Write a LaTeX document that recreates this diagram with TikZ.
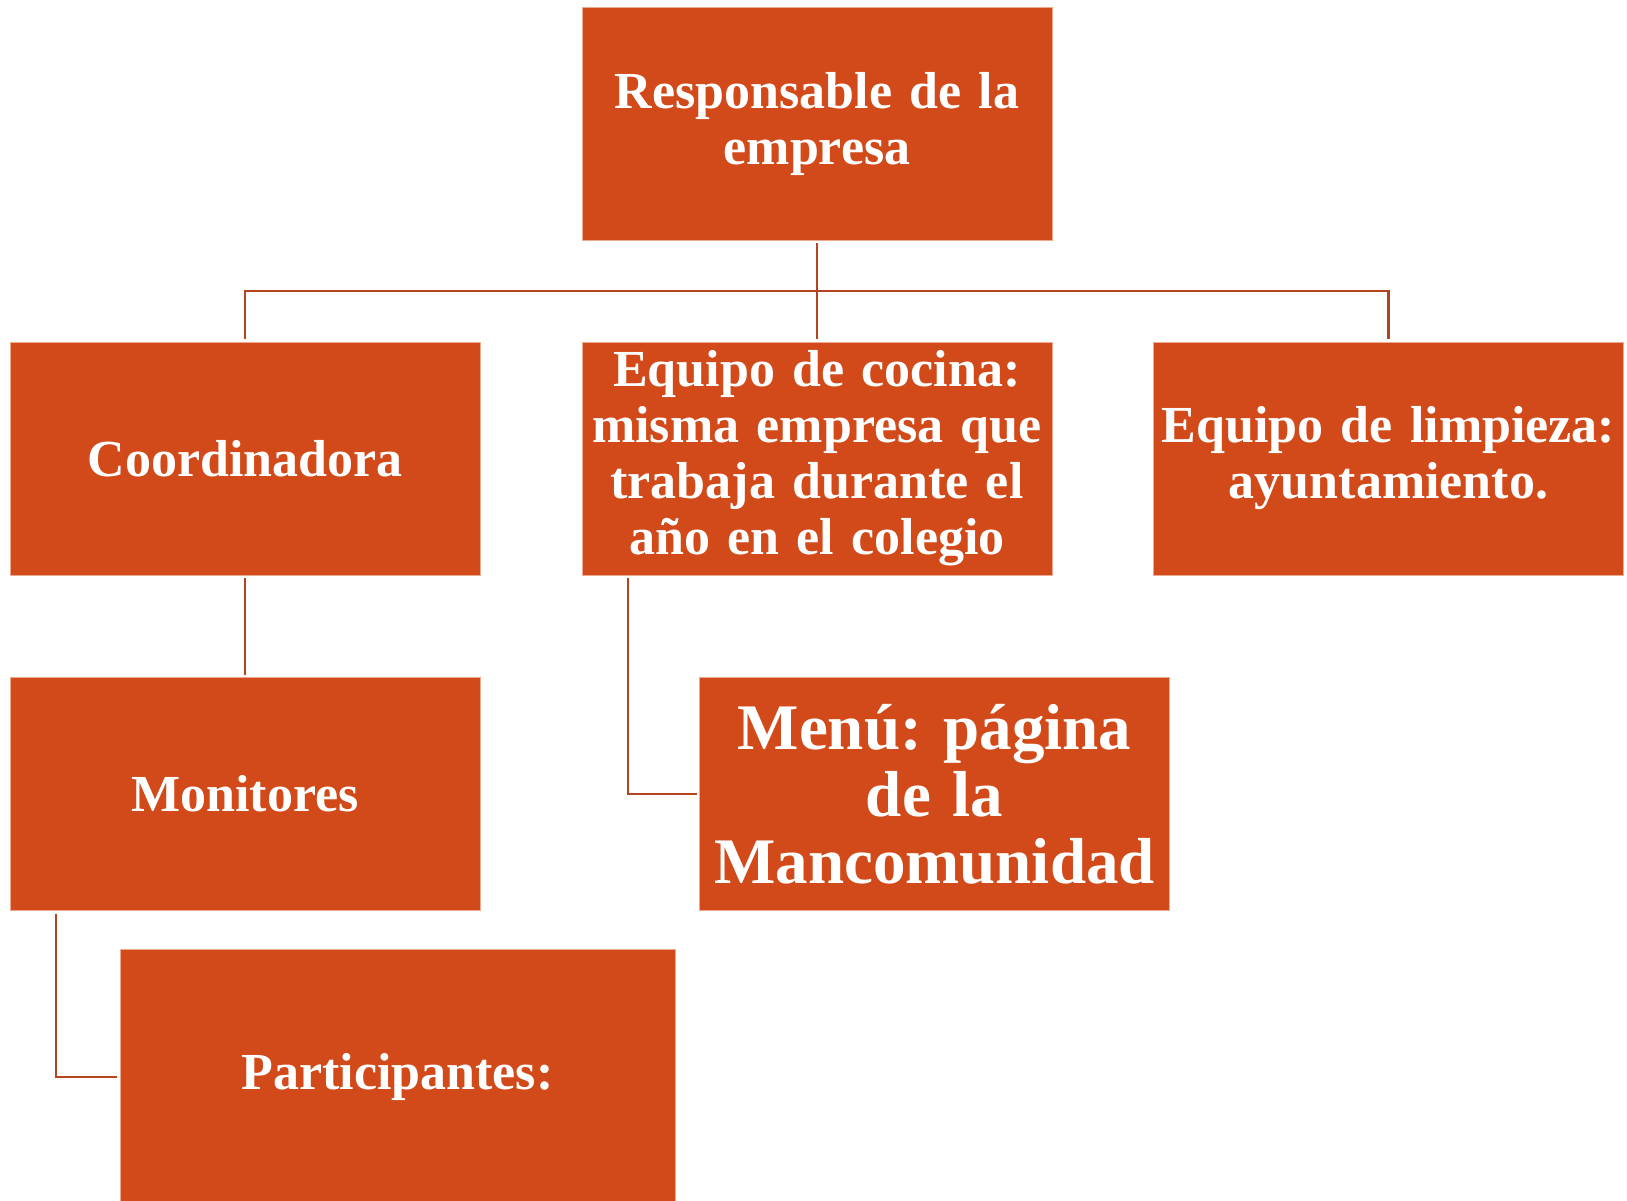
\documentclass[tikz,border=0pt]{standalone}
\usepackage{fontspec}
\setmainfont{Liberation Serif}
\definecolor{boxcol}{RGB}{210,74,25}
\definecolor{linecol}{RGB}{181,67,31}
\definecolor{edgecol}{RGB}{236,170,145}
\begin{document}
\frenchspacing
\begin{tikzpicture}[x=1pt,y=-1pt,
  orgbox/.style={fill=boxcol, draw=edgecol, line width=0.8pt, minimum width=470pt, minimum height=233pt,
    inner sep=0pt, outer sep=3pt, text=white, align=center, text width=462pt,
    font=\fontsize{52}{56}\selectfont\bfseries},
  conn/.style={draw=linecol, line width=2.4pt}]
\useasboundingbox (0,0) rectangle (1627,1201);
\fill[white] (0,0) rectangle (1627,1201);
\node[orgbox] (top) at (817,123.5) {Responsable de la\\empresa};
\node[orgbox] (coord) at (245,458.5) {Coordinadora};
\node[orgbox] (cocina) at (817,458.5) {Equipo de cocina:\\misma empresa que\\trabaja durante el\\año en el colegio};
\node[orgbox] (limp) at (1388.5,458.5) {Equipo de limpieza:\\ayuntamiento.};
\node[orgbox] (mon) at (245,794) {Monitores};
\node[orgbox, font=\fontsize{65}{67}\selectfont\bfseries] (menu) at (934.5,794) {Menú: página\\de la\\Mancomunidad};
\node[orgbox, minimum width=555pt, minimum height=256pt, text width=545pt] (part) at (397.5,1077) {Participantes:};
\coordinate (bus) at (817,291);
\draw[conn] (top.south) -- (top.south |- bus);
\draw[conn] (coord.north) |- (bus) -| (limp.north);
\draw[conn] (cocina.north) -- (cocina.north |- bus);
\draw[conn] (coord.south) -- (mon.north);
\draw[conn] ([xshift=49pt]cocina.south west) |- (menu.west);
\draw[conn] ([xshift=49pt]mon.south west) |- (part.west);
\end{tikzpicture}
\end{document}
